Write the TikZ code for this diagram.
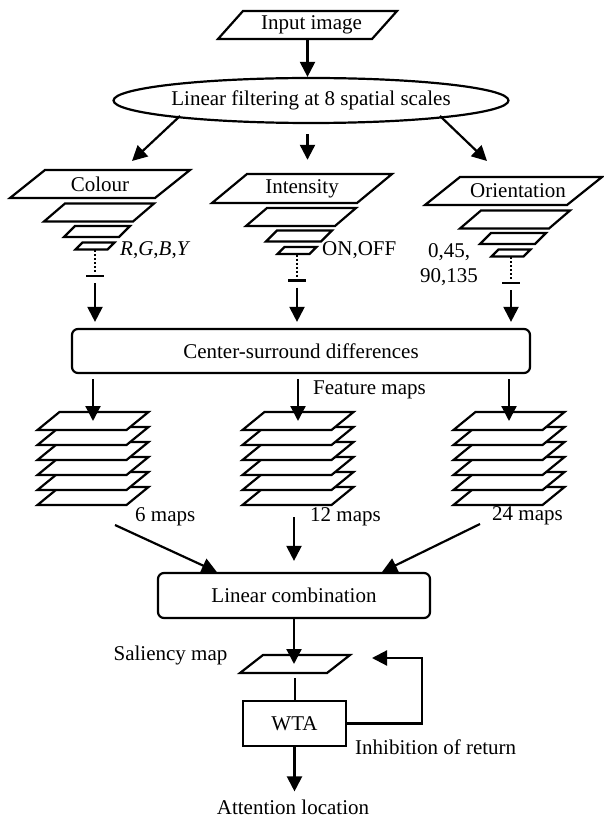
\documentclass[tikz,border=0pt]{standalone}
\usepackage{fontspec}
\setmainfont{Liberation Serif}
\usetikzlibrary{arrows.meta,shapes.geometric}

\newcommand{\sheet}[5]{%
  \filldraw[plate] (#1-#3/2-#5/2,#2+#4/2) -- ++(#5,-#4) -- ++(#3,0) -- ++(-#5,#4) -- cycle;}
\newcommand{\plate}[7]{%
  \sheet{#2}{#3}{#4}{#5}{#6}
  \node[platetext, minimum width=#4pt, minimum height=#5pt] (#1) at (#2,#3) {#7};}

\begin{document}
\begin{tikzpicture}[x=1pt, y=-1pt, font=\fontsize{21}{25}\selectfont,
    plate/.style={draw=black, fill=white, line width=2.2pt},
    platetext/.style={inner sep=0pt},
    boxnode/.style={draw=black, line width=2.2pt, rounded corners=6pt, inner sep=0pt},
    arr/.style={line width=2.2pt, -{Triangle[length=15pt, width=15pt]}},
    lbl/.style={inner sep=0pt}]
  \useasboundingbox (0,0) rectangle (604,818);

  \plate{inp}{307.5}{25}{154}{28}{25}{\hspace{8pt}Input image}
  \node [ellipse, draw=black, line width=2.2pt, minimum width=365pt, minimum height=45pt, inner sep=0pt] at (311,100.5) (filt) {Linear filtering at 8 spatial scales};

  % feature channels
  \plate{col}{100}{184}{145}{28}{35}{Colour}
  \plate{int}{302}{188.5}{145}{29}{35}{Intensity}
  \plate{ori}{513.5}{191}{142}{28}{35}{\hspace{9pt}Orientation}
  \foreach \x/\y/\n in {95/184/col, 297/188.5/int, 511/191/ori} {
    \sheet{\x+4}{\y+28.5}{89}{18}{21}
    \sheet{\x+2}{\y+47.5}{55}{11}{11}
    \sheet{\x}{\y+62}{32}{7}{7}
    \draw[line width=2.2pt, dash pattern=on 2pt off 2pt] (\x,\y+66) -- (\x,\y+88);
    \draw[line width=2.2pt] (\x-9,\y+92) -- (\x+9,\y+92);
    \coordinate (tick\n) at (\x,\y+92);
  }
  \node [lbl, anchor=west] at (120,250) (rgby) {\textit{R},\textit{G},\textit{B},\textit{Y}};
  \node [lbl, anchor=west] at (322,250) (onoff) {ON,OFF};
  \node [lbl, align=center] at (449,265) (angles) {0,45,\\90,135};

  \node [boxnode, minimum width=458pt, minimum height=44pt] at (301,351) (csd) {Center-surround differences};

  % feature map stacks
  \foreach \x/\n in {93/A, 298/B, 509/C} {
    \foreach \k in {5,4,...,0}
      \sheet{\x}{421+15*\k}{89}{18}{22}
    \coordinate (fm\n) at (\x,421);
  }
  \node [lbl, anchor=west] at (313,390) (featlbl) {Feature maps};
  \node [lbl, anchor=west] at (135,517) (n6) {6 maps};
  \node [lbl, anchor=west] at (310,517) (n12) {12 maps};
  \node [lbl, anchor=west] at (492,516) (n24) {24 maps};

  \node [boxnode, minimum width=272pt, minimum height=45pt] at (294,595.5) (lc) {Linear combination};
  \plate{sal}{295}{664}{87}{18}{23}{}
  \node [lbl] at (170.5,655) (sallbl) {Saliency map};
  \node [draw=black, line width=2.2pt, minimum width=103pt, minimum height=45pt, inner sep=0pt] at (294.5,723.5) (wta) {WTA};
  \node [lbl, anchor=west] at (355,747) (iorlbl) {Inhibition of return};
  \node [lbl] at (293,807) (att) {Attention location};

  % connectors
  \coordinate (colout) at (180,116); \coordinate (colin) at (132,161);
  \coordinate (oriout) at (440,116); \coordinate (oriin) at (487,161);
  \coordinate (m6) at (115,525); \coordinate (m12) at (294,517); \coordinate (m24) at (480,524);
  \coordinate (ior) at (422,658); \coordinate (iorend) at (372,658);

  \draw[arr] (inp.south) -- (inp.south |- filt.north);
  \draw[arr] (colout) -- (colin);
  \draw[arr, shorten <=10pt, shorten >=14pt] (inp.south |- filt.south) -- (inp.south |- int.north);
  \draw[arr] (oriout) -- (oriin);
  \foreach \n in {col,int,ori}
    \draw[arr, shorten <=7pt, shorten >=6pt] (tick\n) -- (tick\n |- csd.north);
  \foreach \n in {A,B,C}
    \draw[arr, shorten <=5pt] (fm\n |- csd.south) -- (fm\n);
  \draw[arr] (m6) -- (lc.163);
  \draw[arr, shorten >=11pt] (m12) -- (m12 |- lc.north);
  \draw[arr] (m24) -- (lc.15);
  \draw[arr] (lc.south) -- (lc.south |- sal);
  \draw[line width=2.2pt, shorten <=5pt] (sal.south) -- (sal.south |- wta.north);
  \draw[arr] (wta.east) -| (ior) -- (iorend);
  \draw[arr, shorten >=8pt] (wta.south) -- (wta.south |- att.north);
\end{tikzpicture}
\end{document}
